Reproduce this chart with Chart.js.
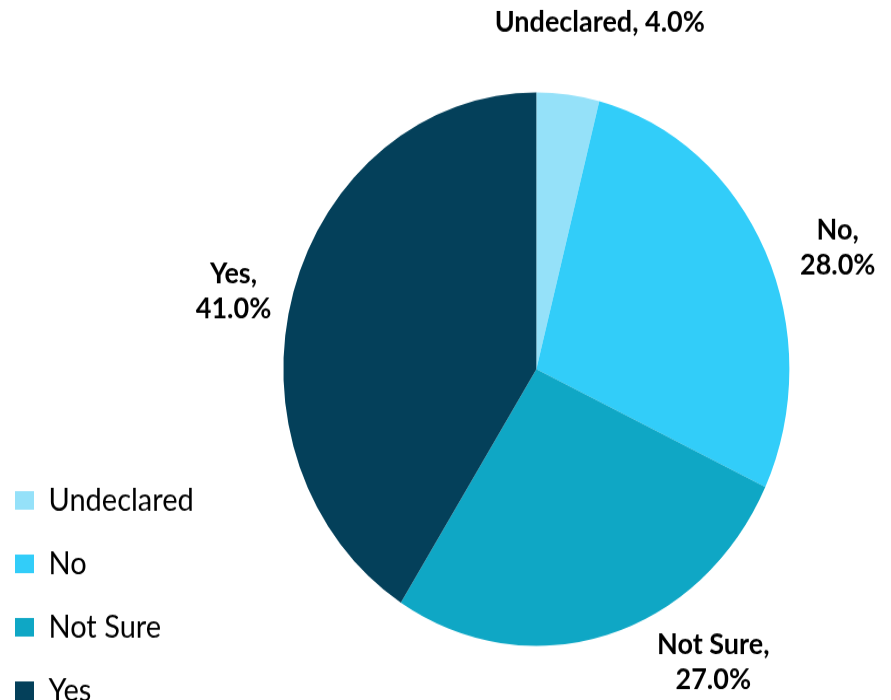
<!DOCTYPE html>
<html>
<head>
<meta charset="utf-8">
<script src="https://cdn.jsdelivr.net/npm/chart.js@4.4.1/dist/chart.umd.min.js"></script>
<style>
  html, body { margin: 0; padding: 0; background: #fff; }
  body { height: 700px; }
  #wrap { width: 891px; height: 640px; transform: scale(1, 1.09375); transform-origin: 0 0; }
</style>
</head>
<body>
<div id="wrap"><canvas id="pie" width="891" height="640"></canvas></div>
<script>
// Survey answers (percent)
const answers = ['Undeclared', 'No', 'Not Sure', 'Yes'];
const shares = [4.0, 28.0, 27.0, 41.0];
const sliceColors = ['#95E1F9', '#32CDF9', '#0FA7C5', '#04405A'];

// Labels sit outside the pie; small nudges so they clear each other
const outerLabels = {
    id: 'outerLabels',
    afterDatasetsDraw(chart, args, opts) {
        const ctx = chart.ctx;
        const meta = chart.getDatasetMeta(0);
        const values = chart.data.datasets[0].data;
        ctx.save();
        ctx.font = opts.font;
        ctx.fillStyle = '#000';
        ctx.textAlign = 'center';
        ctx.textBaseline = 'middle';
        meta.data.forEach((arc, i) => {
            const p = arc.getProps(['x', 'y', 'startAngle', 'endAngle', 'outerRadius'], true);
            const nudge = opts.nudges[i];
            const a = (p.startAngle + p.endAngle) / 2 + nudge.angle * Math.PI / 180;
            const r = p.outerRadius * nudge.dist;
            const cx = p.x + Math.cos(a) * r;
            const cy = p.y + Math.sin(a) * r;
            const pct = values[i].toFixed(1) + '%';
            const name = chart.data.labels[i] + ',';
            const lines = nudge.oneLine ? [name + ' ' + pct] : [name, pct];
            const top = cy - (lines.length - 1) * opts.lineHeight / 2;
            lines.forEach((t, j) => ctx.fillText(t, cx, top + j * opts.lineHeight));
        });
        ctx.restore();
    }
};

new Chart(document.getElementById('pie'), {
    type: 'pie',
    data: {
        labels: answers,
        datasets: [{
            data: shares,
            backgroundColor: sliceColors,
            borderWidth: 0,
            radius: 253
        }]
    },
    options: {
        responsive: false,
        animation: false,
        devicePixelRatio: 1,
        layout: { padding: { top: 35, bottom: -35, left: -14, right: 22 } },
        plugins: {
            tooltip: { enabled: false },
            legend: {
                position: 'left',
                align: 'end',
                labels: {
                    boxWidth: 19,
                    boxHeight: 17,
                    padding: 29,
                    color: '#000',
                    font: { family: 'Lato', size: 29 }
                }
            },
            outerLabels: {
                font: 'bold 27px Lato',
                lineHeight: 32,
                nudges: [
                    { angle: 4.1, dist: 1.28, oneLine: true },
                    { angle: 4.9, dist: 1.27 },
                    { angle: -17.2, dist: 1.27 },
                    { angle: -2.9, dist: 1.23 }
                ]
            }
        }
    },
    plugins: [outerLabels]
});
</script>
</body>
</html>
